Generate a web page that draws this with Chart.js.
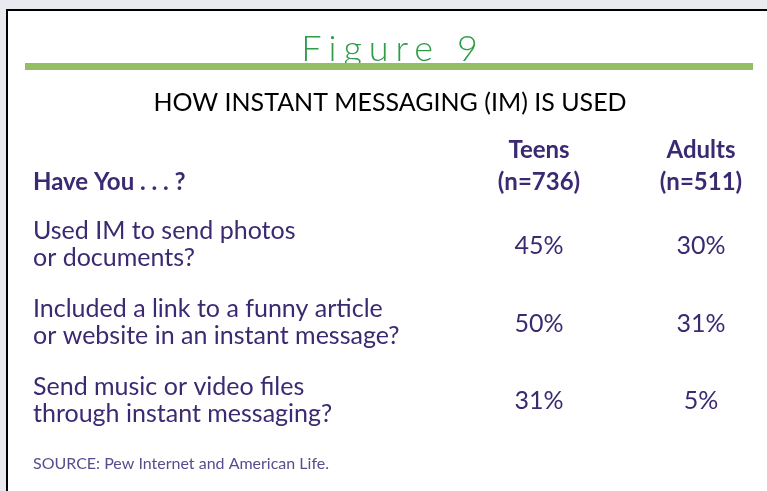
<!DOCTYPE html>
<html>
<head>
<meta charset="utf-8">
<script src="https://cdn.jsdelivr.net/npm/chart.js@4"></script>
<style>
  html, body { margin: 0; padding: 0; background: #e9eaf0; }
  #wrap { width: 767px; height: 491px; }
</style>
</head>
<body>
<div id="wrap"><canvas id="chart" width="767" height="491"></canvas></div>
<script>
// table data
const questions = [
    ['Used IM to send photos', 'or documents?'],
    ['Included a link to a funny article', 'or website in an instant message?'],
    ['Send music or video files', 'through instant messaging?']
];
const columns = [['Teens', '(n=736)'], ['Adults', '(n=511)']];
const teens = [45, 50, 31];
const adults = [30, 31, 5];

const purple = '#3b2a72';
const FONT = 'Lato, "Open Sans", sans-serif';

// draws frame, titles, row header, source and the cell values
const tablePlugin = {
    id: 'tableText',
    beforeDraw(chart) {
        const c = chart.ctx;
        const area = chart.chartArea;
        c.save();
        c.fillStyle = '#e9eaf0';
        c.fillRect(0, 0, chart.width, chart.height);
        c.fillStyle = '#ffffff';
        c.fillRect(7, 10, chart.width - 7, chart.height - 10);
        c.fillStyle = '#000000';
        c.fillRect(6, 9, chart.width - 6, 2);
        c.fillRect(6, 9, 2, chart.height - 9);

        // Figure 9
        c.fillStyle = '#2f9c48';
        c.font = '300 36px ' + FONT;
        c.letterSpacing = '7px';
        c.textAlign = 'center';
        c.textBaseline = 'alphabetic';
        c.fillText('Figure 9', 393, 61);
        c.letterSpacing = '0px';

        // green bar
        c.fillStyle = '#95bd64';
        c.fillRect(25, 63, 728, 7);

        // subtitle
        c.fillStyle = '#000000';
        c.font = '25px ' + FONT;
        c.textBaseline = 'middle';
        c.fillText('HOW INSTANT MESSAGING (IM) IS USED', 390, 103);

        // row header
        c.fillStyle = purple;
        c.font = 'bold 24px ' + FONT;
        c.textAlign = 'left';
        c.fillText('Have You . . . ?', 33, area.top - 24);

        // source
        c.fillStyle = '#5a4b8c';
        c.font = '16px ' + FONT;
        c.fillText('SOURCE: Pew Internet and American Life.', 33, 464);
        c.restore();
    },
    afterDatasetsDraw(chart) {
        const c = chart.ctx;
        c.save();
        c.fillStyle = purple;
        c.font = '25px ' + FONT;
        c.textAlign = 'center';
        c.textBaseline = 'middle';
        const series = [teens, adults];
        chart.data.datasets.forEach((ds, d) => {
            chart.getDatasetMeta(d).data.forEach((pt, i) => {
                c.fillText(series[d][i] + '%', pt.x, pt.y + 1);
            });
        });
        c.restore();
    }
};

new Chart(document.querySelector('#chart'), {
    type: 'scatter',
    data: {
        datasets: [
            { label: 'Teens', data: teens.map((v, i) => ({ x: 0, y: i })), pointRadius: 0 },
            { label: 'Adults', data: adults.map((v, i) => ({ x: 1, y: i })), pointRadius: 0 }
        ]
    },
    options: {
        responsive: false,
        animation: false,
        events: [],
        layout: { padding: { left: 33, right: 66, top: 126, bottom: 52 } },
        plugins: { legend: { display: false }, tooltip: { enabled: false } },
        scales: {
            x: {
                type: 'linear',
                position: 'top',
                min: 0,
                max: 1,
                grid: { display: false, drawTicks: false },
                border: { display: false },
                ticks: {
                    stepSize: 1,
                    padding: 8,
                    color: purple,
                    font: { family: FONT, size: 24, weight: 'bold', lineHeight: 32 / 24 },
                    callback: (v) => columns[v]
                }
            },
            y: {
                type: 'category',
                labels: questions,
                offset: true,
                grid: { display: false, drawTicks: false },
                border: { display: false },
                afterFit: (s) => { s.width = 506; },
                ticks: {
                    crossAlign: 'far',
                    color: purple,
                    font: { family: FONT, size: 25, lineHeight: 27 / 25 }
                }
            }
        }
    },
    plugins: [tablePlugin]
});
</script>
</body>
</html>
